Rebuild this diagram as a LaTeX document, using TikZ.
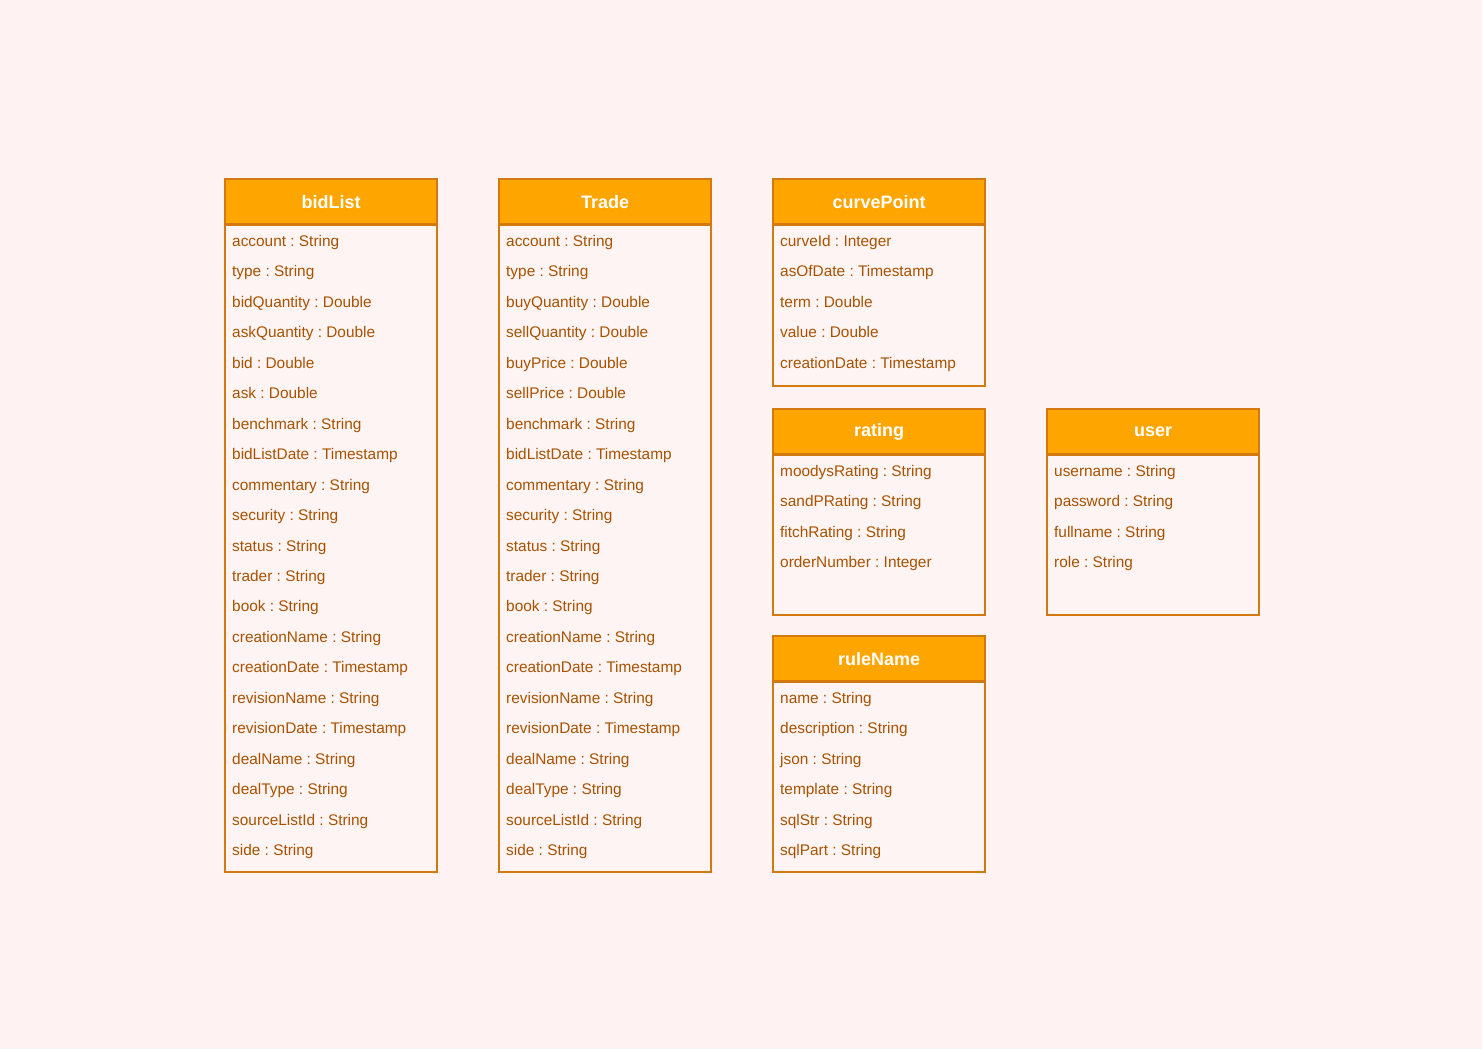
\documentclass[tikz,border=0pt]{standalone}
\usepackage{fontspec}
\setmainfont{Liberation Sans}
\usetikzlibrary{calc}
\frenchspacing
\definecolor{pagebg}{HTML}{FFF2F2}
\definecolor{headfill}{HTML}{FFA500}
\definecolor{boxline}{HTML}{D27A10}
\definecolor{bodyfill}{HTML}{FFF4F4}
\definecolor{fieldtext}{HTML}{A85200}
\begin{document}
\begin{tikzpicture}[x=1pt,y=-1pt,
    head/.style={draw=boxline, fill=headfill, line width=2.4pt, minimum width=212pt, minimum height=45pt,
      anchor=north west, inner sep=0pt, text=white, font=\fontsize{18}{21}\selectfont\bfseries},
    body/.style={draw=boxline, fill=bodyfill, line width=2.4pt, minimum width=212pt, anchor=north west, inner sep=0pt},
    field/.style={anchor=base west, inner sep=0pt, text=fieldtext, font=\fontsize{15.4}{18}\selectfont}]
    \fill[pagebg] (0,0) rectangle (1482,1049);
    \useasboundingbox (0,0) rectangle (1482,1049);

    % bidList
    \node[body, minimum height=647pt] (bidbody) at (224,224) {};
    \node[head] (bidlist) at (224,178) {bidList};
    \foreach \f [count=\i] in {account : String, type : String, bidQuantity : Double, askQuantity : Double,
        bid : Double, ask : Double, benchmark : String, bidListDate : Timestamp, commentary : String,
        security : String, status : String, trader : String, book : String, creationName : String,
        creationDate : Timestamp, revisionName : String, revisionDate : Timestamp, dealName : String,
        dealType : String, sourceListId : String, side : String}
      \node[field] (bid-\i) at ($(bidbody.north west)+(8,22.5+30.45*\i-30.45)$) {\f};

    % Trade
    \node[body, minimum height=647pt] (tradebody) at (498,224) {};
    \node[head] (trade) at (498,178) {Trade};
    \foreach \f [count=\i] in {account : String, type : String, buyQuantity : Double, sellQuantity : Double,
        buyPrice : Double, sellPrice : Double, benchmark : String, bidListDate : Timestamp, commentary : String,
        security : String, status : String, trader : String, book : String, creationName : String,
        creationDate : Timestamp, revisionName : String, revisionDate : Timestamp, dealName : String,
        dealType : String, sourceListId : String, side : String}
      \node[field] (trade-\i) at ($(tradebody.north west)+(8,22.5+30.45*\i-30.45)$) {\f};

    % curvePoint
    \node[body, minimum height=161pt] (curvebody) at (772,224) {};
    \node[head] (curvepoint) at (772,178) {curvePoint};
    \foreach \f [count=\i] in {curveId : Integer, asOfDate : Timestamp, term : Double, value : Double,
        creationDate : Timestamp}
      \node[field] (curve-\i) at ($(curvebody.north west)+(8,22.5+30.45*\i-30.45)$) {\f};

    % rating
    \node[body, minimum height=160pt] (ratingbody) at (772,454) {};
    \node[head] (rating) at (772,408) {rating};
    \foreach \f [count=\i] in {moodysRating : String, sandPRating : String, fitchRating : String,
        orderNumber : Integer}
      \node[field] (rating-\i) at ($(ratingbody.north west)+(8,22.5+30.45*\i-30.45)$) {\f};

    % user
    \node[body, minimum height=160pt] (userbody) at (1046,454) {};
    \node[head] (user) at (1046,408) {user};
    \foreach \f [count=\i] in {username : String, password : String, fullname : String, role : String}
      \node[field] (user-\i) at ($(userbody.north west)+(8,22.5+30.45*\i-30.45)$) {\f};

    % ruleName
    \node[body, minimum height=190pt] (rulebody) at (772,681) {};
    \node[head] (rulename) at (772,635) {ruleName};
    \foreach \f [count=\i] in {name : String, description : String, json : String, template : String,
        sqlStr : String, sqlPart : String}
      \node[field] (rule-\i) at ($(rulebody.north west)+(8,22.5+30.45*\i-30.45)$) {\f};
\end{tikzpicture}
\end{document}
